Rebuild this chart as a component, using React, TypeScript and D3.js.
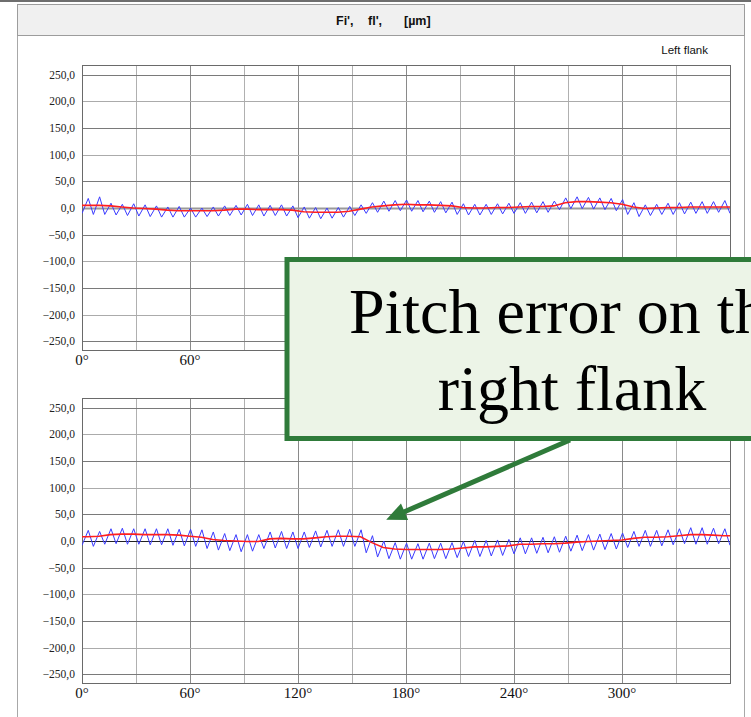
import React from "react";
import * as d3 from "d3";

// Long-wave component (red), per tooth, µm
const leftLongWave = [5, 5, 4, 2, 0, -1, -2, -4, -5, -5, -5, -5, -4, -2, -2, -3, -3, -3, -4, -7, -8, -8, -8, -6, -2, 2, 4, 6, 7, 6, 6, 5, 4, 1, 0, 0, 1, 1, 2, 3, 3, 4, 10, 12, 12, 11, 10, 7, 2, -1, 0, 1, 1, 2, 2, 2, 2];
// Single flank composite error (blue), per-tooth maximum and minimum, µm
const leftToothPeak = [18, 21, 9, 7, 8, 6, 4, 2, 3, 0, 0, 2, 4, 5, 7, 6, 5, 6, 4, 2, 1, 0, 1, 3, 6, 10, 13, 14, 15, 14, 13, 12, 11, 8, 7, 7, 8, 9, 10, 11, 12, 13, 19, 21, 20, 19, 18, 16, 10, 6, 7, 9, 10, 11, 12, 12, 14];
const leftToothTrough = [-10, -12, -12, -13, -14, -15, -16, -17, -17, -17, -17, -16, -15, -14, -13, -14, -15, -14, -15, -18, -19, -20, -19, -17, -14, -10, -8, -6, -5, -6, -7, -8, -9, -12, -13, -13, -12, -11, -10, -10, -9, -8, -3, -1, -1, -2, -3, -5, -12, -16, -14, -12, -12, -11, -10, -10, -8];

const rightLongWave = [8, 9, 12, 13, 13, 12, 12, 12, 11, 9, 7, 3, 1, 0, -1, -1, 4, 5, 4, 4, 6, 8, 9, 9, 8, -3, -12, -15, -16, -16, -16, -16, -15, -13, -11, -11, -10, -9, -6, -6, -5, -5, -4, -2, -1, 0, 1, 2, 5, 7, 7, 8, 10, 12, 12, 11, 10];
const rightToothPeak = [20, 18, 23, 24, 23, 23, 23, 23, 22, 22, 21, 17, 14, 12, 12, 12, 17, 18, 17, 17, 19, 20, 21, 22, 21, 10, 0, -3, -4, -5, -4, -4, -3, -1, 1, 1, 2, 3, 6, 6, 7, 8, 9, 11, 12, 13, 14, 15, 18, 20, 20, 21, 23, 25, 25, 24, 23];
const rightToothTrough = [-8, -10, -6, -5, -6, -6, -7, -7, -8, -9, -10, -14, -17, -18, -20, -19, -14, -13, -14, -14, -12, -11, -10, -10, -10, -22, -30, -33, -34, -34, -34, -33, -33, -31, -29, -29, -28, -27, -24, -24, -23, -22, -21, -19, -18, -17, -16, -15, -12, -10, -10, -9, -7, -5, -6, -6, -5];

const yTicks = [250, 200, 150, 100, 50, 0, -50, -100, -150, -200, -250];
const xGrid = [0, 30, 60, 90, 120, 150, 180, 210, 240, 270, 300, 330, 360];
// the callout sits over the upper chart's remaining angle labels
const xLabelsLeft = [0, 60];
const xLabelsRight = [0, 60, 120, 180, 240, 300];

const W = 751;
const H = 717;
const SERIF = "'Liberation Serif', 'Times New Roman', serif";
const SANS = "'Liberation Sans', Arial, sans-serif";

const x = d3.scaleLinear().domain([0, 360]).range([82, 730]);
const yDomain: [number, number] = [-266, 268];

const fmtY = (v: number) => v.toFixed(1).replace(".", ",").replace("-", "\u2212");

type PlotProps = {
  id: string;
  top: number;
  bottom: number;
  longWave: number[];
  peak: number[];
  trough: number[];
  xLabels: number[];
  zeroColor: string;
  zeroWidth: number;
};

function Plot({ id, top, bottom, longWave, peak, trough, xLabels, zeroColor, zeroWidth }: PlotProps) {
  const y = d3.scaleLinear().domain(yDomain).range([bottom, top]);
  const pitch = 360 / peak.length;

  const bluePts: [number, number][] = [];
  peak.forEach((p, i) => {
    bluePts.push([i * pitch, trough[i]]);
    bluePts.push([(i + 0.55) * pitch, p]);
  });
  bluePts.push([360, trough[0]]);

  const redPts: [number, number][] = [[0, longWave[0]]];
  longWave.forEach((v, i) => redPts.push([(i + 0.5) * pitch, v]));
  redPts.push([360, longWave[longWave.length - 1]]);

  const line = d3
    .line<[number, number]>()
    .x((d) => x(d[0]))
    .y((d) => y(d[1]));

  const [x0, x1] = x.range();

  return (
    <g>
      <defs>
        <clipPath id={id}>
          <rect x={x0} y={top} width={x1 - x0} height={bottom - top} />
        </clipPath>
      </defs>
      {/* vertical grid */}
      {xGrid.slice(1, -1).map((a) => (
        <line
          key={"v" + a}
          x1={Math.round(x(a)) + 0.5}
          x2={Math.round(x(a)) + 0.5}
          y1={top}
          y2={bottom}
          stroke={a % 60 === 0 ? "#8a8a8a" : "#b0b0b0"}
          strokeWidth={1}
        />
      ))}
      {/* horizontal grid */}
      {yTicks.map((v) =>
        v === 0 ? null : (
          <line
            key={"h" + v}
            x1={x0}
            x2={x1}
            y1={Math.round(y(v)) + 0.5}
            y2={Math.round(y(v)) + 0.5}
            stroke={Math.abs(v) % 100 === 50 ? "#7a7a7a" : "#ababab"}
            strokeWidth={1}
          />
        )
      )}
      <line
        x1={x0}
        x2={x1}
        y1={Math.round(y(0)) + 0.5}
        y2={Math.round(y(0)) + 0.5}
        stroke={zeroColor}
        strokeWidth={zeroWidth}
      />
      <rect
        x={x0 + 0.5}
        y={top + 0.5}
        width={x1 - x0}
        height={bottom - top}
        fill="none"
        stroke="#6a6a6a"
        strokeWidth={1}
      />
      {/* y labels */}
      {yTicks.map((v) => (
        <text
          key={"yl" + v}
          x={75}
          y={y(v)}
          dy="0.35em"
          textAnchor="end"
          fontFamily={SERIF}
          fontSize={11.5}
          fill="#222"
        >
          {fmtY(v)}
        </text>
      ))}
      {/* x labels */}
      {xLabels.map((a) => (
        <text
          key={"xl" + a}
          x={x(a)}
          y={bottom + 15}
          textAnchor="middle"
          fontFamily={SERIF}
          fontSize={15}
          fill="#111"
        >
          {a}°
        </text>
      ))}
      <g clipPath={`url(#${id})`}>
        <path d={line(bluePts) || ""} fill="none" stroke="#3a3aff" strokeWidth={1} />
        <path d={line(redPts) || ""} fill="none" stroke="#ff1f1f" strokeWidth={1.6} />
      </g>
    </g>
  );
}

export default function App() {
  const yBottom = d3.scaleLinear().domain(yDomain).range([683, 398]);

  // callout
  const box = { x: 287, y: 259.5, w: 570, h: 179 };
  const tail: [number, number] = [570, 440];
  const tip: [number, number] = [x(169), yBottom(40)];
  const dx = tip[0] - tail[0];
  const dy = tip[1] - tail[1];
  const len = Math.hypot(dx, dy);
  const ux = dx / len;
  const uy = dy / len;
  const headLen = 20;
  const headHalf = 9;
  const base: [number, number] = [tip[0] - ux * headLen, tip[1] - uy * headLen];
  const head = [
    tip,
    [base[0] - uy * headHalf, base[1] + ux * headHalf],
    [base[0] + uy * headHalf, base[1] - ux * headHalf],
  ]
    .map((p) => p.join(","))
    .join(" ");

  return (
    <svg
      width={W}
      height={H}
      viewBox={`0 0 ${W} ${H}`}
      style={{ position: "absolute", left: 0, top: 0, background: "#fff" }}
    >
      <rect x={0} y={0} width={W} height={H} fill="#fff" />
      <rect x={0} y={0} width={W} height={2} fill="#6e6e6e" />
      {/* panel frame */}
      <line x1={17.5} x2={17.5} y1={4.5} y2={H} stroke="#a8a8a8" />
      <line x1={744.5} x2={744.5} y1={4.5} y2={H} stroke="#a8a8a8" />
      <rect x={17.5} y={4.5} width={727} height={31} fill="#f0f0f0" stroke="#9c9c9c" />
      <text x={336} y={25} fontFamily={SANS} fontWeight="bold" fontSize={12.5} fill="#111">
        Fi',
      </text>
      <text x={368} y={25} fontFamily={SANS} fontWeight="bold" fontSize={12.5} fill="#111">
        fl',
      </text>
      <text x={404} y={25} fontFamily={SANS} fontWeight="bold" fontSize={12.5} fill="#111">
        [µm]
      </text>
      <text x={708} y={54} textAnchor="end" fontFamily={SANS} fontSize={11.5} fill="#111">
        Left flank
      </text>

      <Plot
        id="clip-left"
        top={65}
        bottom={350}
        longWave={leftLongWave}
        peak={leftToothPeak}
        trough={leftToothTrough}
        xLabels={xLabelsLeft}
        zeroColor="#9a9a9a"
        zeroWidth={2}
      />
      <Plot
        id="clip-right"
        top={398}
        bottom={683}
        longWave={rightLongWave}
        peak={rightToothPeak}
        trough={rightToothTrough}
        xLabels={xLabelsRight}
        zeroColor="#222"
        zeroWidth={1}
      />

      {/* callout */}
      <rect
        x={box.x}
        y={box.y}
        width={box.w}
        height={box.h}
        fill="#ecf4e7"
        stroke="#2f7b3a"
        strokeWidth={5}
      />
      <text
        x={box.x + box.w / 2}
        y={333}
        textAnchor="middle"
        fontFamily={SERIF}
        fontSize={64}
        fill="#000"
      >
        Pitch error on the
      </text>
      <text
        x={box.x + box.w / 2}
        y={410}
        textAnchor="middle"
        fontFamily={SERIF}
        fontSize={64}
        fill="#000"
      >
        right flank
      </text>
      <line
        x1={tail[0]}
        y1={tail[1]}
        x2={base[0] + ux * 2}
        y2={base[1] + uy * 2}
        stroke="#2f7b3a"
        strokeWidth={5}
      />
      <polygon points={head} fill="#2f7b3a" />
    </svg>
  );
}
